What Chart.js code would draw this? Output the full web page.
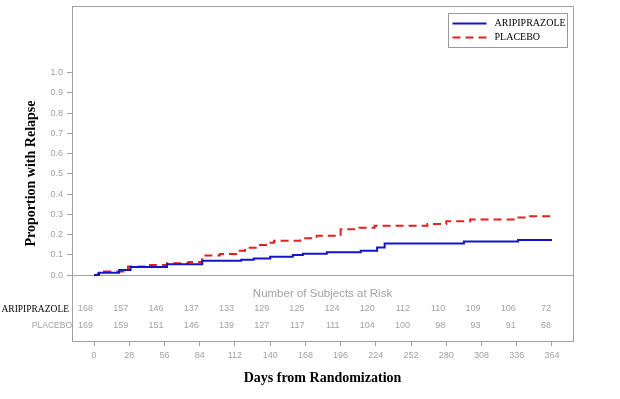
<!DOCTYPE html>
<html>
<head>
<meta charset="utf-8">
<script src="https://cdn.jsdelivr.net/npm/chart.js@4/dist/chart.umd.min.js"></script>
<style>
  html, body { margin: 0; padding: 0; background: #fff; }
  #wrap { width: 620px; height: 399px; }
</style>
</head>
<body>
<div id="wrap"><canvas id="kmChart" width="620" height="399"></canvas></div>
<script>
// ---------- DATA ----------
const armNames = ["ARIPIPRAZOLE", "PLACEBO"];

// Kaplan-Meier style cumulative proportion with relapse
const aripDays = [0, 4, 20, 29, 58, 86, 117, 127, 140, 158, 166, 185, 212, 225, 231, 294, 337, 364];
const aripProp = [0, 0.011, 0.025, 0.040, 0.054, 0.071, 0.076, 0.082, 0.090, 0.099, 0.105, 0.113, 0.120, 0.136, 0.156, 0.166, 0.173, 0.173];

const placDays = [0, 3, 8, 27, 40, 58, 75, 86, 100, 113, 120, 130, 138, 143, 164, 177, 196, 211, 223, 265, 280, 299, 336, 345, 364];
const placProp = [0, 0.008, 0.018, 0.042, 0.050, 0.058, 0.064, 0.097, 0.104, 0.120, 0.135, 0.148, 0.160, 0.170, 0.182, 0.194, 0.226, 0.234, 0.244, 0.252, 0.266, 0.274, 0.284, 0.291, 0.291];

const xTicks = [0, 28, 56, 84, 112, 140, 168, 196, 224, 252, 280, 308, 336, 364];
const yTicks = [0.0, 0.1, 0.2, 0.3, 0.4, 0.5, 0.6, 0.7, 0.8, 0.9, 1.0];

const aripAtRisk = [168, 157, 146, 137, 133, 129, 125, 124, 120, 112, 110, 109, 106, 72];
const placAtRisk = [169, 159, 151, 146, 139, 127, 117, 111, 104, 100, 98, 93, 91, 68];

// ---------- STYLE ----------
const GRAY_LINE = "#a0a0a0";
const GRAY_TEXT = "#a2a2a2";
const BLUE = "#1414c8";
const RED = "#e3201f";
const SANS = "'Liberation Sans', Arial, sans-serif";
const SERIF = "'Liberation Serif', 'Times New Roman', serif";

function toPoints(days, props) {
    return days.map((d, i) => ({ x: d, y: props[i] }));
}

// ---------- EXTRA DRAWING (box, zero line, at-risk table, legend) ----------
const kmExtras = {
    id: "kmExtras",
    beforeDatasetsDraw(chart) {
        const { ctx, chartArea: a, scales: { y } } = chart;
        const y0 = Math.round(y.getPixelForValue(0)) + 0.5;
        ctx.save();
        ctx.strokeStyle = GRAY_LINE;
        ctx.lineWidth = 1;
        ctx.beginPath();
        ctx.moveTo(a.left, y0);
        ctx.lineTo(a.right, y0);
        ctx.stroke();
        ctx.restore();
    },
    afterDraw(chart) {
        const { ctx, chartArea: a, scales: { x } } = chart;
        ctx.save();

        // box top + right
        ctx.strokeStyle = GRAY_LINE;
        ctx.lineWidth = 1;
        const r = Math.round(a.right) + 0.5;
        const t = Math.round(a.top) + 0.5;
        ctx.beginPath();
        ctx.moveTo(a.left, t);
        ctx.lineTo(r, t);
        ctx.lineTo(r, a.bottom);
        ctx.stroke();

        // at-risk table
        ctx.textBaseline = "middle";
        ctx.textAlign = "center";
        ctx.fillStyle = GRAY_TEXT;
        ctx.font = "11.5px " + SANS;
        ctx.fillText("Number of Subjects at Risk", (a.left + a.right) / 2, a.bottom - 47);

        // counts sit just left of each tick (right aligned)
        const rowY = [a.bottom - 32, a.bottom - 15];
        const rows = [aripAtRisk, placAtRisk];
        ctx.textAlign = "right";
        ctx.font = "9px " + SANS;
        rows.forEach((vals, ri) => {
            vals.forEach((v, i) => {
                ctx.fillText(String(v), x.getPixelForValue(xTicks[i]) - 1, rowY[ri]);
            });
        });

        ctx.fillStyle = "#000";
        ctx.font = "9.5px " + SERIF;
        ctx.fillText(armNames[0], a.left - 3, rowY[0]);
        ctx.fillStyle = GRAY_TEXT;
        ctx.font = "8.5px " + SANS;
        ctx.fillText(armNames[1], a.left, rowY[1]);

        // legend box
        const lx = Math.round(a.right) - 125 + 0.5;
        const ly = Math.round(a.top) + 7 + 0.5;
        ctx.strokeStyle = "#999";
        ctx.strokeRect(lx, ly, 119, 34);
        chart.data.datasets.forEach((ds, i) => {
            const yy = ly + 10 + i * 14;
            ctx.strokeStyle = ds.borderColor;
            ctx.lineWidth = 2;
            ctx.setLineDash(ds.borderDash || []);
            ctx.beginPath();
            ctx.moveTo(lx + 4, yy);
            ctx.lineTo(lx + 38, yy);
            ctx.stroke();
            ctx.setLineDash([]);
            ctx.fillStyle = "#000";
            ctx.textAlign = "left";
            ctx.font = "10px " + SERIF;
            ctx.fillText(ds.label, lx + 46, yy);
        });

        ctx.restore();
    }
};

// ---------- CHART ----------
new Chart(document.getElementById("kmChart").getContext("2d"), {
    type: "line",
    data: {
        datasets: [
            {
                label: armNames[0],
                data: toPoints(aripDays, aripProp),
                borderColor: BLUE,
                borderWidth: 2,
                stepped: true,
                pointRadius: 0,
                fill: false
            },
            {
                label: armNames[1],
                data: toPoints(placDays, placProp),
                borderColor: RED,
                borderWidth: 2,
                borderDash: [8, 5],
                stepped: true,
                pointRadius: 0,
                fill: false
            }
        ]
    },
    options: {
        responsive: false,
        animation: false,
        devicePixelRatio: 1,
        layout: { padding: { top: 6, right: 47, left: 0, bottom: 0 } },
        plugins: {
            legend: { display: false },
            tooltip: { enabled: false }
        },
        scales: {
            x: {
                type: "linear",
                min: -17.5,
                max: 380.7,
                afterBuildTicks: s => { s.ticks = xTicks.map(v => ({ value: v })); },
                afterFit: s => { s.height = 58; s.paddingLeft = 0; s.paddingRight = 0; },
                ticks: {
                    color: GRAY_TEXT,
                    font: { family: SANS, size: 9 },
                    padding: 4,
                    maxRotation: 0,
                    autoSkip: false,
                    callback: v => String(v)
                },
                grid: { drawOnChartArea: false, drawTicks: true, tickLength: 5, color: GRAY_LINE },
                border: { color: GRAY_LINE },
                title: {
                    display: true,
                    text: "Days from Randomization",
                    color: "#000",
                    font: { family: SERIF, size: 14, weight: "bold" },
                    padding: { top: 0, bottom: 12 }
                }
            },
            y: {
                min: -0.326,
                max: 1.33,
                afterBuildTicks: s => { s.ticks = yTicks.map(v => ({ value: v })); },
                afterFit: s => { s.width = 72; s.paddingTop = 0; s.paddingBottom = 0; },
                ticks: {
                    color: GRAY_TEXT,
                    font: { family: SANS, size: 9 },
                    padding: 4,
                    callback: v => Number(v).toFixed(1)
                },
                grid: { drawOnChartArea: false, drawTicks: true, tickLength: 5, color: GRAY_LINE },
                border: { color: GRAY_LINE },
                title: {
                    display: true,
                    text: "Proportion with Relapse",
                    color: "#000",
                    font: { family: SERIF, size: 14, weight: "bold" },
                    padding: { top: 23, bottom: 0 }
                }
            }
        }
    },
    plugins: [kmExtras]
});
</script>
</body>
</html>
